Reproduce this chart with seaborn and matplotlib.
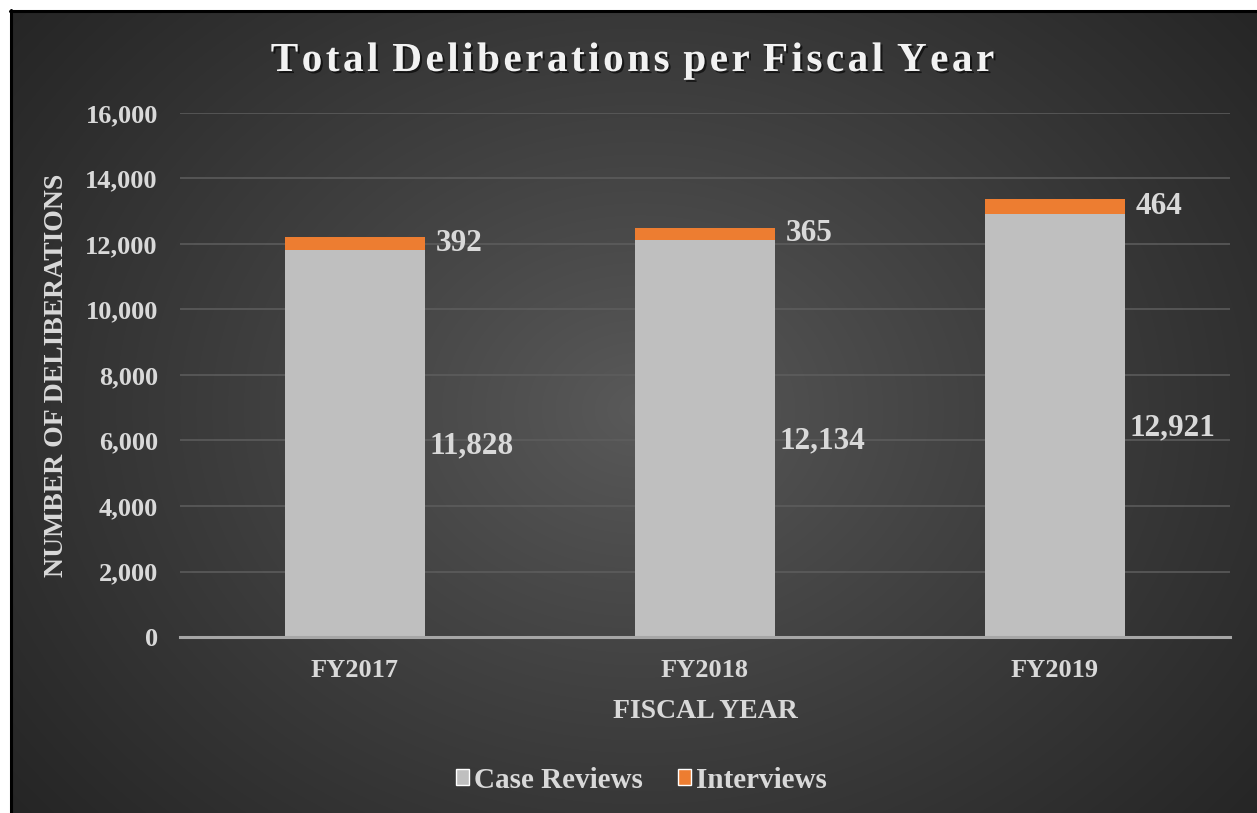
import numpy as np
import pandas as pd
import matplotlib.pyplot as plt
import matplotlib.patheffects as pe
from matplotlib.patches import Patch
from matplotlib.lines import Line2D
import seaborn as sns

years = ["FY2017", "FY2018", "FY2019"]
case_reviews = [11828, 12134, 12921]
interviews = [392, 365, 464]

GREY = "#BFBFBF"
ORANGE = "#ED7D31"
TXT = "#D9D9D9"

sns.set_style("dark")
plt.rcParams["font.family"] = ["Liberation Serif", "DejaVu Serif"]
plt.rcParams["font.weight"] = "bold"

df = pd.DataFrame({"year": years, "case": case_reviews, "interviews": interviews})
df["total"] = df["case"] + df["interviews"]

W, H = 1257, 813
fig = plt.figure(figsize=(W / 100, H / 100), dpi=100, facecolor="white")

# dark radial gradient panel
bg = fig.add_axes([10 / W, 0, 1 - 10 / W, 1 - 10 / H])
yy, xx = np.mgrid[0:803, 0:1247]
r = np.hypot((xx - 630) / 700, (yy - 400) / 560)
r = np.clip(r / r.max(), 0, 1)
shade = 0x5A / 255 - (0x5A - 0x25) / 255 * r ** 0.9
bg.imshow(np.dstack([shade] * 3), aspect="auto", extent=[0, 1, 0, 1], origin="upper")
bg.set_axis_off()
fig.add_artist(Line2D([10 / W, 1], [1 - 11 / H, 1 - 11 / H], color="black", lw=2.2,
                      transform=fig.transFigure))
fig.add_artist(Line2D([11 / W, 11 / W], [0, 1 - 10 / H], color="black", lw=2.2,
                      transform=fig.transFigure))

ax = fig.add_axes([180 / W, 1 - 637 / H, 1050 / W, 524 / H])
ax.set_facecolor("none")
sns.barplot(data=df, x="year", y="total", color=ORANGE, width=0.4, saturation=1,
            errorbar=None, ax=ax, zorder=3, linewidth=0, edgecolor="none")
sns.barplot(data=df, x="year", y="case", color=GREY, width=0.4, saturation=1,
            errorbar=None, ax=ax, zorder=3, linewidth=0, edgecolor="none")

ax.set_ylim(0, 16000)
ax.set_xlim(-0.5, 2.5)
ax.set_yticks(range(0, 16001, 2000))
ax.set_yticklabels([f"{v:,}" for v in range(0, 16001, 2000)])
ax.yaxis.grid(True, color="#5E5E5E", lw=1.1, zorder=0)
ax.xaxis.grid(False)
for s in ["top", "right", "left"]:
    ax.spines[s].set_visible(False)
ax.spines["bottom"].set_color("#A6A6A6")
ax.spines["bottom"].set_linewidth(2.2)
ax.spines["bottom"].set_zorder(4)
ax.tick_params(axis="y", length=0, pad=16, labelsize=19, labelcolor=TXT)
ax.tick_params(axis="x", length=0, pad=16, labelsize=19, labelcolor=TXT)
for lab in ax.get_xticklabels() + ax.get_yticklabels():
    lab.set_fontweight("bold")

ax.set_xlabel("FISCAL YEAR", fontsize=20, fontweight="bold", color=TXT, labelpad=12)
ax.set_ylabel("NUMBER OF DELIBERATIONS", fontsize=20, fontweight="bold", color=TXT, labelpad=12)

for i, row in df.iterrows():
    ax.annotate(f"{row['interviews']:,}", (i + 0.2, row["case"] + row["interviews"] / 2),
                xytext=(8, 0), textcoords="offset points", va="center", ha="left",
                fontsize=22.5, fontweight="bold", color=TXT)
    ax.annotate(f"{row['case']:,}", (i + 0.2, row["case"] / 2),
                xytext=(3, -2), textcoords="offset points", va="center", ha="left",
                fontsize=22.5, fontweight="bold", color=TXT)

# letter-spaced title (hair spaces between letters, a little extra between words)
title = " \u200a".join("\u200a".join(w) for w in "Total Deliberations per Fiscal Year".split())
fig.text(634 / W, 1 - 71 / H, title, ha="center", va="baseline",
         fontsize=29.7, fontweight="bold", color="#F2F2F2",
         path_effects=[pe.withSimplePatchShadow(offset=(1.5, -1.5), shadow_rgbFace="black", alpha=0.6)])

handles = [Patch(facecolor=GREY, label="Case Reviews"), Patch(facecolor=ORANGE, label="Interviews")]
leg = fig.legend(handles=handles, loc="center", bbox_to_anchor=(641 / W, 1 - 780 / H), ncol=2,
                 frameon=False, handlelength=0.45, handleheight=0.45, handletextpad=0.17,
                 columnspacing=1.2, prop={"size": 21, "weight": "bold"})
for t in leg.get_texts():
    t.set_color(TXT)

fig.savefig("out.png", dpi=100, facecolor="white")
